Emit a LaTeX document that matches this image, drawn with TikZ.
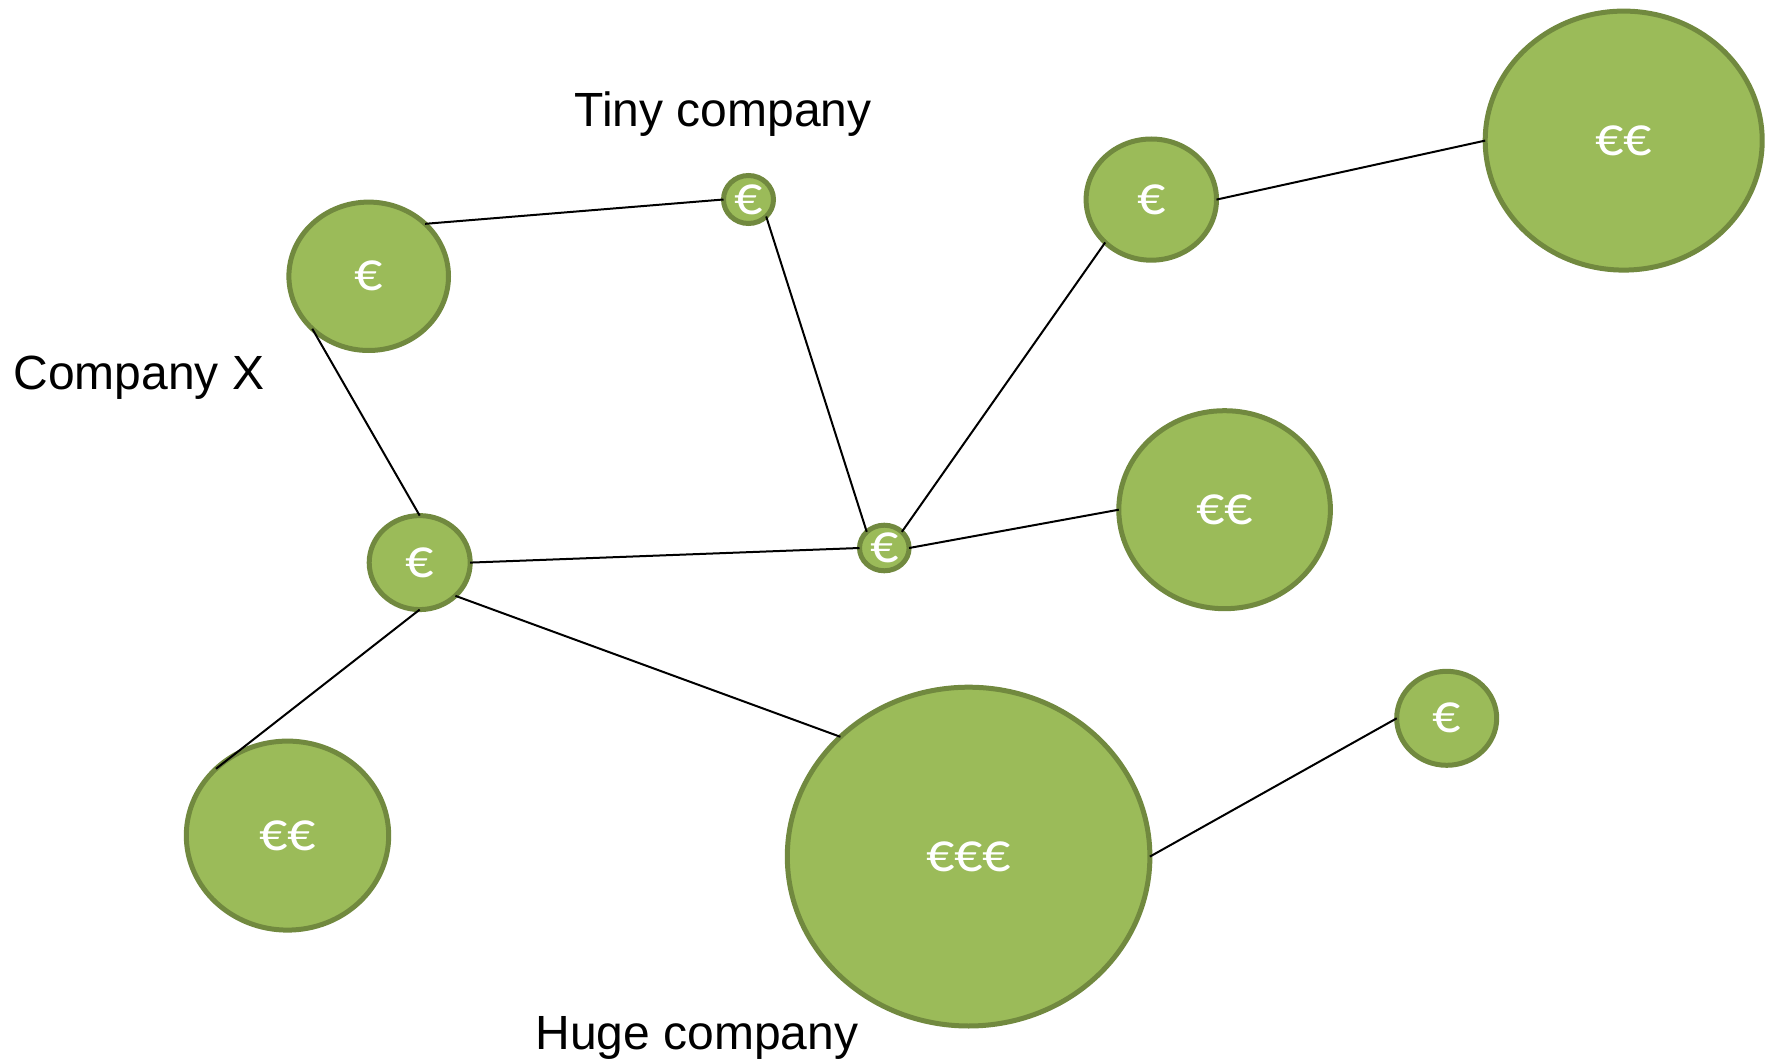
\documentclass[tikz,border=0pt]{standalone}
\usepackage{fontspec}
\setmainfont{Liberation Sans}
\newfontfamily\eurofont{Carlito}
\usetikzlibrary{shapes.geometric}
\definecolor{coinfill}{HTML}{9BBB59}
\definecolor{coinline}{HTML}{71893F}
\tikzset{
  coin/.style 2 args={ellipse, draw=coinline, fill=coinfill, line width=2.5pt,
    inner sep=0pt, outer sep=0pt, minimum width=#1pt, minimum height=#2pt},
  money/.style={label={[text=white, font=\eurofont\fontsize{28}{28}\selectfont, inner sep=0pt]center:#1}},
  link/.style={draw=black, line width=1pt},
  caption/.style={font=\fontsize{24}{28}\selectfont, text=black, inner sep=0pt}
}
\begin{document}
\begin{tikzpicture}[x=0.5pt, y=-0.5pt]
\useasboundingbox (0,0) rectangle (1768,1064);
\node[coin={79.8}{74.2}, money=€] (A) at (368.7,276.3) {};
\node[coin={25}{24}, money=€] (T) at (748.5,199.5) {};
\node[coin={65.2}{60.6}, money=€] (B) at (1151.3,199.6) {};
\node[coin={138.5}{129.5}, money=€€] (C) at (1623.7,140.6) {};
\node[coin={50.5}{47}, money=€] (D) at (419.7,562.6) {};
\node[coin={24.8}{22.8}, money=€] (E) at (884.3,548) {};
\node[coin={105.8}{99}, money=€€] (F) at (1224.6,509.7) {};
\node[coin={101.2}{94.5}, money=€€] (G) at (287.5,835.6) {};
\node[coin={181.3}{169.4}, money=€€€] (H) at (968.6,856.6) {};
\node[coin={50}{47}, money=€] (I) at (1446.7,718.3) {};
\node[caption] (tinylbl) at (723,114) {Tiny company};
\node[caption] (xlbl) at (139,377.5) {Company X};
\node[caption] (hugelbl) at (697,1037.5) {Huge company};
\draw[link] (A.north east) -- (T.west);
\draw[link] (T.south east) -- (E.north west);
\draw[link] (A.south west) -- (D.north);
\draw[link] (D.east) -- (E.west);
\draw[link] (E.north east) -- (B.south west);
\draw[link] (B.east) -- (C.west);
\draw[link] (E.east) -- (F.west);
\draw[link] (D.south) -- (G.north west);
\draw[link] (D.south east) -- (H.north west);
\draw[link] (H.east) -- (I.west);
\end{tikzpicture}
\end{document}
